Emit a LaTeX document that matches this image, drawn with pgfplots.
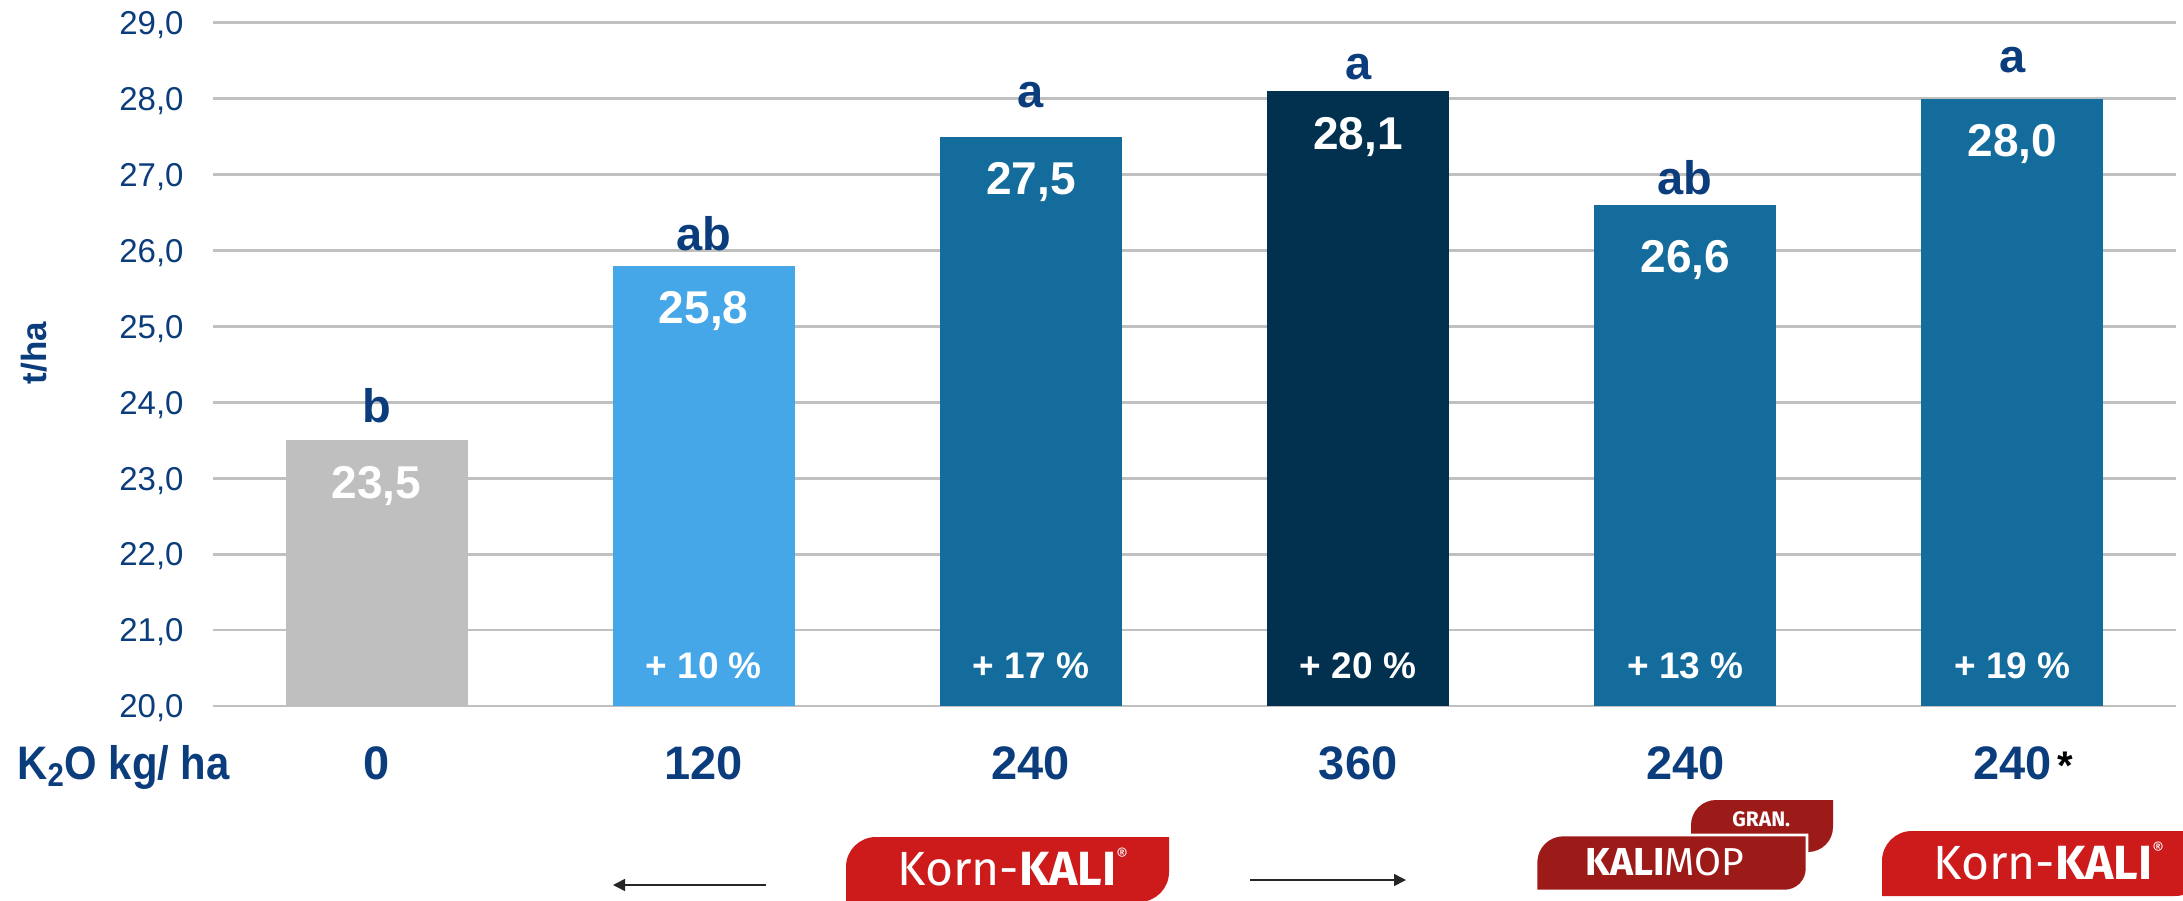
\documentclass[border=0pt]{standalone}
\usepackage{fontspec}
\setmainfont{Liberation Sans}
\newfontfamily\logofont{Fira Sans}
\usepackage{pgfplots}
\pgfplotsset{compat=1.18}
\usetikzlibrary{arrows.meta}

\definecolor{txtblue}{HTML}{0B3D7C}
\definecolor{cgray}{HTML}{BFBFBF}
\definecolor{clight}{HTML}{46A7E8}
\definecolor{cmid}{HTML}{136C9C}
\definecolor{cdark}{HTML}{02304F}
\definecolor{gridgray}{HTML}{C0C0C0}
\definecolor{kred}{HTML}{CD1A1B}
\definecolor{mred}{HTML}{9C1B18}

\newcommand{\fs}[1]{\fontsize{#1}{#1}\selectfont}

\begin{document}
\begin{tikzpicture}
\begin{axis}[
  name=ax, at={(0,0)}, anchor=south west,
  scale only axis, width=981.5pt, height=341.6pt,
  xmin=-0.5, xmax=5.5, ymin=20, ymax=29,
  ytick={20,21,...,29},
  xtick={0,1,2,3,4,5},
  xticklabels={0,120,240,360,240,{240\rlap{\hspace{3pt}\textcolor{black}{\fs{20}*}}}},
  ymajorgrids, grid style={gridgray, line width=1.35pt},
  axis line style={draw=none},
  major tick length=0pt, tick style={draw=none},
  ybar, bar width=91pt,
  /pgf/number format/.cd, use comma, fixed, fixed zerofill, precision=1, assume math mode=true,
  /pgfplots/.cd,
  yticklabel style={anchor=base east, inner sep=0pt, xshift=-14.5pt, yshift=-5.9pt, font=\fs{16.5}, text=txtblue},
  xticklabel style={anchor=base, inner sep=0pt, yshift=-36.5pt, font=\fs{23.5}\bfseries, text=txtblue},
  nodes near coords,
  every node near coord/.append style={anchor=base, yshift=-29pt, font=\fs{23}\bfseries, text=white, inner sep=0pt},
  clip=false,
]
\addplot[fill=cgray, draw=none, bar shift=0pt] coordinates {(0,23.5)};
\addplot[fill=clight, draw=none, bar shift=0pt] coordinates {(1,25.8)};
\addplot[fill=cmid, draw=none, bar shift=0pt] coordinates {(2,27.5)};
\addplot[fill=cdark, draw=none, bar shift=0pt] coordinates {(3,28.1)};
\addplot[fill=cmid, draw=none, bar shift=0pt, every node near coord/.append style={yshift=-5pt}] coordinates {(4,26.6)};
\addplot[fill=cmid, draw=none, bar shift=0pt] coordinates {(5,28.0)};

\tikzset{lett/.style={anchor=base, inner sep=0pt, font=\fs{23.5}\bfseries, text=txtblue},
         pct/.style={anchor=base, inner sep=0pt, font=\fs{18.5}\bfseries, text=white}}
\node[lett] at (axis cs:0,23.74) {b};
\node[lett] at (axis cs:1,26.00) {ab};
\node[lett] at (axis cs:2,27.89) {a};
\node[lett] at (axis cs:3,28.25) {a};
\node[lett] at (axis cs:4,26.74) {ab};
\node[lett] at (axis cs:5,28.35) {a};

\node[pct] at (axis cs:1,20.356) {+ 10 \%};
\node[pct] at (axis cs:2,20.356) {+ 17 \%};
\node[pct] at (axis cs:3,20.356) {+ 20 \%};
\node[pct] at (axis cs:4,20.356) {+ 13 \%};
\node[pct] at (axis cs:5,20.356) {+ 19 \%};
\end{axis}

\begin{scope}[shift={(ax.south west)}, xshift=-106.5pt, yshift=353pt, x=0.5pt, y=-0.5pt]
  % axis descriptions
  \node[anchor=base west, inner sep=0pt, font=\fs{23.5}\bfseries, text=txtblue] at (17,779) {\scalebox{0.89}[1]{K\textsubscript{2}O kg/ ha}};
  \node[rotate=90, anchor=base, inner sep=0pt, font=\fs{17.5}\bfseries, text=txtblue] at (47,353) {t/ha};

  % middle Korn-KALI logo
  \fill[kred] (846,902) -- (846,867) .. controls (846,850.4) and (859.4,837) .. (876,837) -- (1169,837) -- (1169,872) .. controls (1169,888.6) and (1155.6,902) .. (1139,902) -- cycle;
  \node[anchor=base west, inner sep=0pt, text=white, font=\logofont\fs{24}] at (897,885) {Korn-{\bfseries KALI}\raisebox{0.5em}{\fs{9}®}};

  % right Korn-KALI logo
  \begin{scope}[xshift=518pt, yshift=3pt]
  \fill[kred] (846,902) -- (846,867) .. controls (846,850.4) and (859.4,837) .. (876,837) -- (1169,837) -- (1169,872) .. controls (1169,888.6) and (1155.6,902) .. (1139,902) -- cycle;
  \node[anchor=base west, inner sep=0pt, text=white, font=\logofont\fs{24}] at (897,885) {Korn-{\bfseries KALI}\raisebox{0.5em}{\fs{9}®}};
  \end{scope}

  % KALIMOP GRAN. logo
  \fill[mred] (1691,852) -- (1691,825) .. controls (1691,811.2) and (1702.2,800) .. (1716,800) -- (1833,800) -- (1833,827) .. controls (1833,840.8) and (1821.8,852) .. (1808,852) -- cycle;
  \filldraw[fill=mred, draw=white, line width=1.3pt] (1536,891) -- (1536,862) .. controls (1536,847.1) and (1548.1,835) .. (1563,835) -- (1807,835) -- (1807,869) .. controls (1807,881.2) and (1797.2,891) .. (1785,891) -- cycle;
  \node[anchor=base west, inner sep=0pt, text=white, font=\logofont\bfseries\fs{10.5}] at (1732,826) {GRAN.};
  \node[anchor=base west, inner sep=0pt, text=white, font=\logofont\fs{19.5}] at (1585,875) {{\bfseries KALI}MOP};

  % arrows
  \draw[black!85, line width=0.8pt, -{Triangle[length=6pt, width=6pt]}] (766,885) -- (613,885);
  \draw[black!85, line width=0.8pt, -{Triangle[length=6pt, width=6pt]}] (1250,880) -- (1406,880);

  \pgfresetboundingbox
  \path[use as bounding box] (0,0) rectangle (2183,900);
\end{scope}
\end{tikzpicture}
\end{document}
